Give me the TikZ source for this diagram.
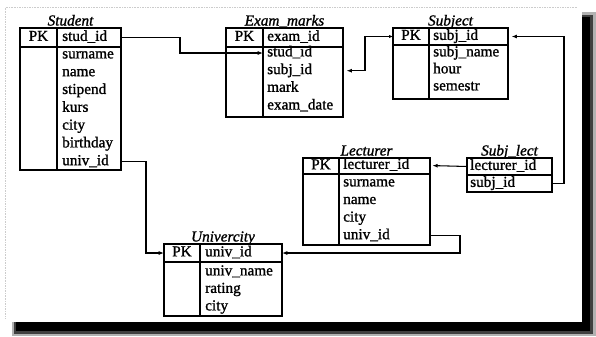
\documentclass[tikz,border=0pt]{standalone}
\usepackage{fontspec}
\setmainfont{Liberation Serif}[
    BoldFont={Liberation Serif}, BoldFeatures={FakeBold=1.2},
    BoldItalicFont={Liberation Serif Italic}, BoldItalicFeatures={FakeBold=1.2}]
\usetikzlibrary{arrows.meta,calc}
\tikzset{
    tbl/.style  = {line width=1pt},
    ttl/.style  = {anchor=base, inner sep=0pt, font=\fontsize{13}{15}\selectfont\bfseries\itshape},
    fld/.style  = {anchor=west, inner sep=0pt, text height=8.6pt, text depth=2.8pt,
                   font=\fontsize{13}{15}\selectfont\bfseries},
    pk/.style   = {inner sep=0pt, text height=8.6pt, text depth=2.8pt,
                   font=\fontsize{13}{15}\selectfont\bfseries},
    fwd/.style  = {-{Latex[length=1.6mm,width=1.2mm]}, line width=0.9pt},
    both/.style = {{Latex[length=1.6mm,width=1.2mm]}-{Latex[length=1.2mm,width=1mm]}, line width=0.9pt}
}

% table frame: name, title, left, top, PK column, header line, right, bottom
\newcommand{\ertable}[8]{%
    \coordinate (#1-nw)  at (#3,#4);
    \coordinate (#1-se)  at (#7,#8);
    \coordinate (#1-div) at (#5,#4);
    \draw[tbl] (#1-nw) rectangle (#1-se);
    \draw[tbl] (#3,#6) -- (#7,#6);
    \draw[tbl] (#1-div) -- (#1-div |- #1-se);
    \node[ttl] (#1) at ({(#3+#7)/2},{#4-2.5}) {#2};
    \node[pk]  (#1-pk) at ({(#3+#5)/2},{(#4+#6)/2}) {PK};
}

\begin{document}
\begin{tikzpicture}[x=0.03cm, y=-0.03cm]
    \useasboundingbox (0,0) rectangle (596,336);

    % ---------- sheet with drop shadow ----------
    \fill[black!30] (12,12) rectangle (596,336);
    \fill[black!75] (14,15) rectangle (593,334);
    \fill[black]    (16,17) rectangle (590,331);
    \fill[white]    (0,0) rectangle (582,322);
    \draw[black!20, densely dotted, line width=0.4pt] (5,318) -- (5,7) -- (578,7);

    % =================================================
    % 1. Tables
    % =================================================
    % Student
    \ertable{student}{Student}{20}{28}{57}{47}{121}{170}
    \node[fld] (student-id) at (62,37.5) {stud\_id};
    \foreach \f [count=\i] in {surname,name,stipend,kurs,city,birthday,univ\_id}
        \node[fld] (student-\i) at (62,{37.2+\i*17.8}) {\f};

    % Exam_marks
    \ertable{exam}{Exam\_marks}{226}{28}{263}{47}{343}{117}
    \node[fld] (exam-id) at (267,37.5) {exam\_id};
    \foreach \f [count=\i] in {stud\_id,subj\_id,mark,exam\_date}
        \node[fld] (exam-\i) at (267,{35.3+\i*17.7}) {\f};

    % Subject
    \ertable{subject}{Subject}{393}{28}{429}{45}{508}{99}
    \node[fld] (subject-id) at (433,36.5) {subj\_id};
    \foreach \f [count=\i] in {subj\_name,hour,semestr}
        \node[fld] (subject-\i) at (433,{36+\i*17}) {\f};

    % Lecturer
    \ertable{lecturer}{Lecturer}{303}{158}{339}{174}{430}{245}
    \node[fld] (lecturer-id) at (343,165.5) {lecturer\_id};
    \foreach \f [count=\i] in {surname,name,city,univ\_id}
        \node[fld] (lecturer-\i) at (343,{165.4+\i*17.6}) {\f};

    % Subj_lect (no PK column)
    \coordinate (subjlect-nw) at (467,158);
    \coordinate (subjlect-se) at (552,192);
    \draw[tbl] (subjlect-nw) rectangle (subjlect-se);
    \draw[tbl] (467,175) -- (552,175);
    \node[ttl] (subjlect) at (509.5,155.5) {Subj\_lect};
    \node[fld] (subjlect-id) at (470,166.5) {lecturer\_id};
    \node[fld] (subjlect-1)  at (470,183.5) {subj\_id};

    % Univercity
    \ertable{univ}{Univercity}{164}{244}{200}{262}{282}{316}
    \node[fld] (univ-id) at (205,253) {univ\_id};
    \foreach \f [count=\i] in {univ\_name,rating,city}
        \node[fld] (univ-\i) at (205,{254.5+\i*17.5}) {\f};

    % =================================================
    % 2. Links
    % =================================================
    \coordinate (bend-exam) at (180,0);
    \coordinate (bend-subj) at (365,0);
    \coordinate (bend-sl)   at (564,0);
    \coordinate (bend-univ) at (460,0);
    \coordinate (bend-stud) at (146,0);

    \draw[fwd] (student-se |- student-id) -| (bend-exam |- exam-1) -- (exam-div |- exam-1);
    \draw[both, shorten <=3pt] (exam-se |- exam-2) -| (bend-subj |- subject-pk)
        -- (subject-nw |- subject-pk);
    \draw[fwd, shorten >=3pt] (subjlect-se |- subjlect-1) -| (bend-sl |- subject-id)
        -- (subject-se |- subject-id);
    \draw[fwd, shorten >=2pt] (subjlect-nw |- subjlect-id) -- (lecturer-se |- lecturer-id);
    \draw[fwd] (lecturer-se |- lecturer-4) -| (bend-univ |- univ-id) -- (univ-se |- univ-id);
    \draw[fwd] (student-se |- student-7) -| (bend-stud |- univ-id) -- (univ-nw |- univ-id);

\end{tikzpicture}
\end{document}
